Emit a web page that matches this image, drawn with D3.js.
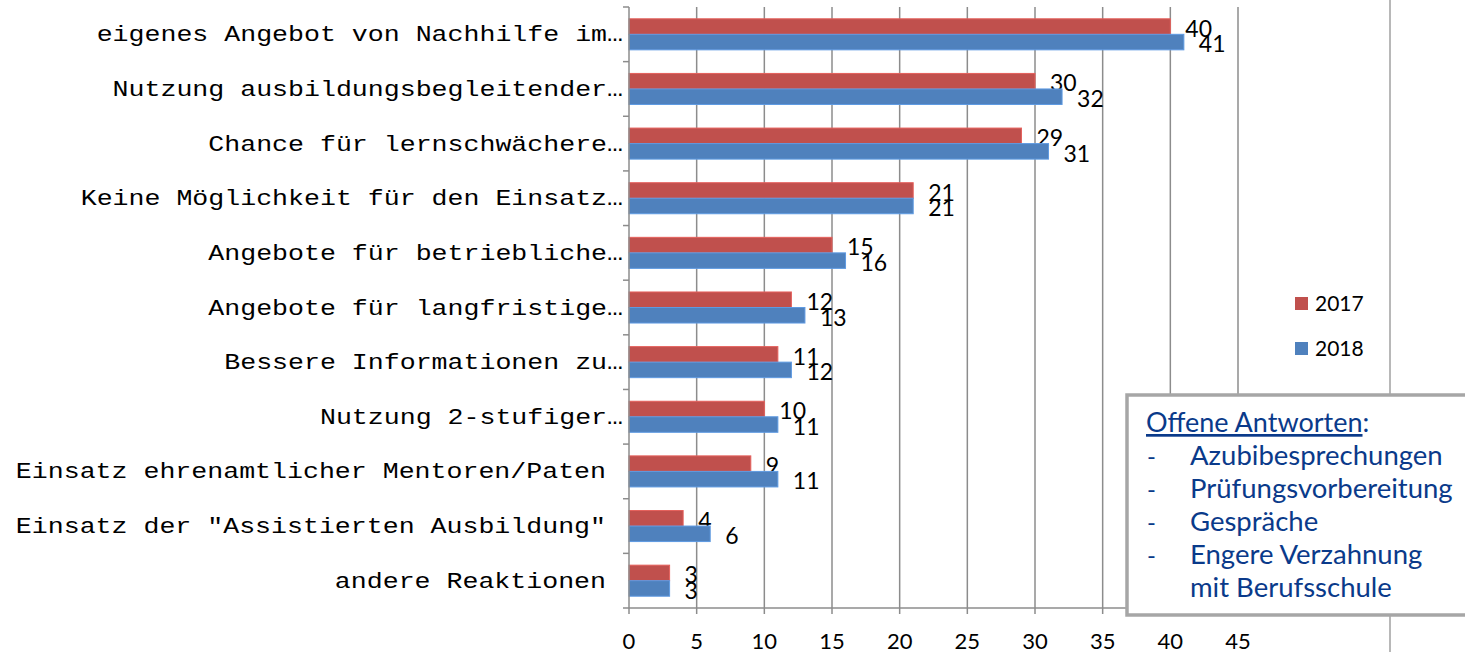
<!DOCTYPE html>
<html><head><meta charset="utf-8">
<script src="https://cdn.jsdelivr.net/npm/d3@7"></script>
<style>body{margin:0;background:#fff;overflow:hidden}</style>
</head><body>
<script>
const categories = [
  "eigenes Angebot von Nachhilfe im…",
  "Nutzung ausbildungsbegleitender…",
  "Chance für lernschwächere…",
  "Keine Möglichkeit für den Einsatz…",
  "Angebote für betriebliche…",
  "Angebote für langfristige…",
  "Bessere Informationen zu…",
  "Nutzung 2-stufiger…",
  "Einsatz ehrenamtlicher Mentoren/Paten",
  "Einsatz der \"Assistierten Ausbildung\"",
  "andere Reaktionen"
];
const values2017 = [40, 30, 29, 21, 15, 12, 11, 10, 9, 4, 3];
const values2018 = [41, 32, 31, 21, 16, 13, 12, 11, 11, 6, 3];
const seriesNames = ["2017", "2018"];
const seriesColors = ["#c0504d", "#4f81bd"];
const xTicks = [0, 5, 10, 15, 20, 25, 30, 35, 40, 45];
const boxTitle = "Offene Antworten";
const boxItems = ["Azubibesprechungen", "Prüfungsvorbereitung", "Gespräche", "Engere Verzahnung", "mit Berufsschule"];

(function () {
const W = 1465, H = 652;
const svg = d3.select("body").append("svg").attr("width", W).attr("height", H);

const pLeft = 629, pTop = 7, pBottom = 608;
const x = d3.scaleLinear().domain([0, 45]).range([pLeft, 1238]);
const y = d3.scaleBand().domain(categories).range([pTop, pBottom]).paddingInner(0).paddingOuter(0);
const ySub = d3.scaleBand().domain(seriesNames).range([0, y.bandwidth()]).paddingInner(0).paddingOuter(0.76);

const gridColor = "#8c8c8c";
svg.append("g").selectAll("line").data(xTicks.slice(1)).join("line")
  .attr("x1", d => x(d)).attr("x2", d => x(d)).attr("y1", pTop).attr("y2", pBottom + 6)
  .attr("stroke", gridColor).attr("stroke-width", 1.5);
svg.append("line").attr("x1", 1390).attr("x2", 1390).attr("y1", 0).attr("y2", H)
  .attr("stroke", "#a0a0a0").attr("stroke-width", 1.5);

const series = [values2017, values2018];
series.forEach((vals, si) => {
  svg.append("g").selectAll("rect").data(categories).join("rect")
    .attr("x", x(0)).attr("y", (c) => y(c) + ySub(seriesNames[si]))
    .attr("width", (c, i) => x(vals[i]) - x(0)).attr("height", ySub.bandwidth())
    .attr("fill", seriesColors[si])
    .attr("stroke", d3.color(seriesColors[si]).brighter(0.5)).attr("stroke-width", 1);
  svg.append("g").selectAll("text").data(categories).join("text")
    .attr("x", (c, i) => x(vals[i]) + 15)
    .attr("y", (c) => y(c) + ySub(seriesNames[si]) + ySub.bandwidth() / 2 + 1.3)
    .attr("dominant-baseline", "central")
    .attr("font-family", "Lato, sans-serif").attr("font-size", 23).attr("fill", "#000")
    .text((c, i) => vals[i]);
});

svg.append("line").attr("x1", pLeft).attr("x2", 1240).attr("y1", pBottom).attr("y2", pBottom)
  .attr("stroke", gridColor).attr("stroke-width", 1.5);
svg.append("line").attr("x1", pLeft).attr("x2", pLeft).attr("y1", pTop).attr("y2", pBottom + 6)
  .attr("stroke", gridColor).attr("stroke-width", 1.5);
svg.append("g").selectAll("line").data(categories.concat(["_end"])).join("line")
  .attr("x1", pLeft - 6).attr("x2", pLeft)
  .attr("y1", (c, i) => pTop + i * y.step()).attr("y2", (c, i) => pTop + i * y.step())
  .attr("stroke", gridColor).attr("stroke-width", 1.5);

svg.append("g").selectAll("text").data(xTicks).join("text")
  .attr("x", d => x(d)).attr("y", 640).attr("text-anchor", "middle").attr("dominant-baseline", "central")
  .attr("font-family", "Lato, sans-serif").attr("font-size", 22).attr("fill", "#000")
  .text(d => d);

svg.append("g").selectAll("text").data(categories).join("text")
  .attr("x", c => c.endsWith("…") ? 623 : 606)
  .attr("y", c => y(c) + y.bandwidth() / 2 + 1)
  .attr("text-anchor", "end").attr("dominant-baseline", "central")
  .attr("font-family", "'Liberation Mono', monospace").attr("font-size", 22.5).attr("fill", "#000")
  .attr("textLength", c => c.length * 15.95).attr("lengthAdjust", "spacingAndGlyphs")
  .text(c => c);

const lg = svg.append("g");
seriesNames.forEach((s, i) => {
  lg.append("rect").attr("x", 1295).attr("y", 297 + i * 45).attr("width", 13).attr("height", 13).attr("fill", seriesColors[i]);
  lg.append("text").attr("x", 1315).attr("y", 311 + i * 45)
    .attr("font-family", "Lato, sans-serif").attr("font-size", 21).attr("fill", "#000").text(s);
});

const bx = svg.append("g");
bx.append("rect").attr("x", 1127).attr("y", 395).attr("width", 360).attr("height", 220)
  .attr("fill", "#fff").attr("stroke", "#a6a6a6").attr("stroke-width", 3.5);
const blue = "#0a3a8a";
const t = bx.append("text").attr("x", 1146).attr("y", 432)
  .attr("font-family", "Lato, sans-serif").attr("font-size", 27).attr("fill", blue);
t.append("tspan").attr("text-decoration", "underline").text(boxTitle);
t.append("tspan").text(":");
boxItems.forEach((it, i) => {
  if (i < 4) bx.append("text").attr("x", 1147).attr("y", 465 + i * 33)
    .attr("font-family", "Lato, sans-serif").attr("font-size", 24).attr("fill", blue).text("-");
  bx.append("text").attr("x", 1190).attr("y", 465 + i * 33)
    .attr("font-family", "Lato, sans-serif").attr("font-size", 27.5).attr("fill", blue).text(it);
});
})();
</script>
</body></html>
